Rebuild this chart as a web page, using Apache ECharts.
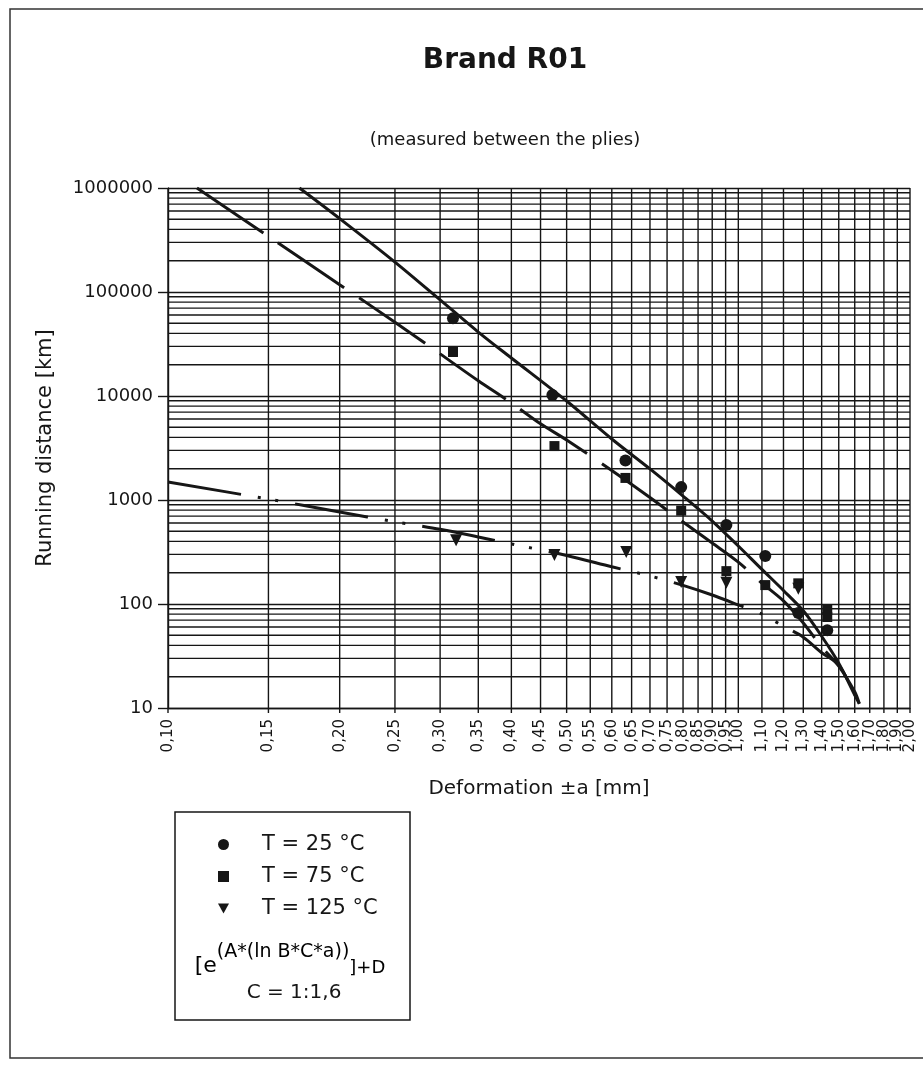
<!DOCTYPE html>
<html><head><meta charset="utf-8">
<script src="https://cdn.jsdelivr.net/npm/echarts@6/dist/echarts.min.js"></script>
<style>html,body{margin:0;padding:0;background:#fff}#c{width:923px;height:1065px}</style>
</head><body><div id="c"></div>
<script>
// ---- axis ticks / grid ----
const xTickValues = [0.10,0.15,0.20,0.25,0.30,0.35,0.40,0.45,0.50,0.55,0.60,0.65,0.70,0.75,0.80,0.85,0.90,0.95,1.00,1.10,1.20,1.30,1.40,1.50,1.60,1.70,1.80,1.90,2.00];
const xTickLabels = ['0,10','0,15','0,20','0,25','0,30','0,35','0,40','0,45','0,50','0,55','0,60','0,65','0,70','0,75','0,80','0,85','0,90','0,95','1,00','1,10','1,20','1,30','1,40','1,50','1,60','1,70','1,80','1,90','2,00'];
const yMinorGrid = [20,30,40,50,60,70,80,90,200,300,400,500,600,700,800,900,2000,3000,4000,5000,6000,7000,8000,9000,20000,30000,40000,50000,60000,70000,80000,90000,200000,300000,400000,500000,600000,700000,800000,900000];

// ---- measured points ----
const p25X = [0.316, 0.472, 0.634, 0.794, 0.953, 1.115, 1.274, 1.432];
const p25Y = [56000, 10200, 2400, 1330, 575, 290, 82, 56];
const p75X = [0.316, 0.476, 0.634, 0.794, 0.953, 1.115, 1.274, 1.432, 1.432];
const p75Y = [26500, 3300, 1630, 790, 207, 152, 158, 88, 75];
const p125X = [0.32, 0.476, 0.636, 0.794, 0.953, 1.274];
const p125Y = [410, 296, 316, 163, 160, 140];

// ---- fitted curves ----
const c25X = [0.17, 0.20, 0.25, 0.30, 0.35, 0.40, 0.50, 0.60, 0.70, 0.80, 0.90, 1.00, 1.10, 1.20, 1.30, 1.40, 1.50, 1.60, 1.63];
const c25Y = [1000000, 508000, 194000, 84000, 41200, 23200, 8950, 3860, 1990, 1090, 628, 361, 215, 135, 86, 49, 27, 13.3, 11];
const c75X = [0.1124, 0.15, 0.20, 0.25, 0.30, 0.35, 0.40, 0.45, 0.50, 0.60, 0.70, 0.80, 0.90, 1.00, 1.10, 1.20, 1.30, 1.40, 1.50, 1.60, 1.63];
const c75Y = [1000000, 342000, 117500, 51300, 25400, 14000, 8570, 5400, 3775, 1918, 1055, 614, 386, 253, 159, 107, 65.6, 38.6, 25.3, 14.3, 11];
const c125X = [0.10, 0.15, 0.20, 0.25, 0.30, 0.35, 0.40, 0.50, 0.60, 0.70, 0.80, 0.90, 1.00, 1.10, 1.20, 1.30, 1.40, 1.50, 1.60, 1.63];
const c125Y = [1490, 1020, 767, 618, 523, 441, 378, 293, 228, 186, 151, 122, 98, 80, 61, 48, 34, 26, 13.5, 11];

const seriesNames = ['T = 25 °C', 'T = 75 °C', 'T = 125 °C'];

const zip = (xs, ys) => xs.map((x, i) => [x, ys[i]]);
const INK = '#161616';
const FONT = '"DejaVu Sans", sans-serif';
const X_MIN = 0.1, X_MAX = 2.0, Y_MIN = 10, Y_MAX = 1000000;

const chart = echarts.init(document.getElementById('c'));

function renderVLine(params, api) {
  const x = api.value(0);
  const top = api.coord([x, Y_MAX]);
  const bot = api.coord([x, Y_MIN]);
  return {
    type: 'group',
    children: [
      { type: 'line', shape: { x1: bot[0], y1: top[1], x2: bot[0], y2: bot[1] + 5 },
        style: { stroke: INK, lineWidth: 1.4 } },
      { type: 'text', x: bot[0], y: bot[1] + 11, rotation: Math.PI / 2,
        style: { text: xTickLabels[params.dataIndex], align: 'right', verticalAlign: 'middle',
                 fill: INK, font: '15px ' + FONT } }
    ]
  };
}
function renderHLine(params, api) {
  const y = api.value(1);
  const l = api.coord([X_MIN, y]);
  const r = api.coord([X_MAX, y]);
  return { type: 'line', shape: { x1: l[0], y1: l[1], x2: r[0], y2: r[1] },
           style: { stroke: INK, lineWidth: 1.4 } };
}

const option = {
  backgroundColor: '#fff',
  animation: false,
  title: [
    { text: 'Brand R01', left: 500, top: 42, textAlign: 'center',
      textStyle: { fontFamily: FONT, fontSize: 28, fontWeight: 'bold', color: INK } },
    { text: '(measured between the plies)', left: 500, top: 126, textAlign: 'center',
      textStyle: { fontFamily: FONT, fontSize: 18, fontWeight: 'normal', color: INK } }
  ],
  grid: { left: 168, right: 13, top: 188, bottom: 357, containLabel: false },
  xAxis: {
    type: 'log', logBase: 10, min: X_MIN, max: X_MAX,
    name: 'Deformation ±a [mm]', nameLocation: 'middle', nameGap: 71,
    nameTextStyle: { fontFamily: FONT, fontSize: 20, color: INK },
    axisLine: { show: true, lineStyle: { color: INK, width: 1.4 } },
    axisTick: { show: false }, axisLabel: { show: false }, splitLine: { show: false }
  },
  yAxis: {
    type: 'log', logBase: 10, min: Y_MIN, max: Y_MAX, splitNumber: 5,
    name: 'Running distance [km]', nameLocation: 'middle', nameGap: 112,
    nameTextStyle: { fontFamily: FONT, fontSize: 21, color: INK },
    axisLine: { show: true, lineStyle: { color: INK, width: 1.4 } },
    axisTick: { show: true, length: 10, lineStyle: { color: INK, width: 1.4 } },
    axisLabel: { fontFamily: FONT, fontSize: 18, color: INK, margin: 15,
                 formatter: v => String(Math.round(v)) },
    splitLine: { show: true, lineStyle: { color: INK, width: 1.4 } }
  },
  legend: {
    orient: 'vertical', left: 213, top: 829, itemGap: 11,
    itemWidth: 11, itemHeight: 11, selectedMode: false,
    textStyle: { fontFamily: FONT, fontSize: 21, color: INK, padding: [0, 0, 0, 28] },
    data: [
      { name: seriesNames[0], icon: 'circle' },
      { name: seriesNames[1], icon: 'rect' },
      { name: seriesNames[2], icon: 'path://M0,0L10,0L5,9Z' }
    ]
  },
  graphic: [
    { type: 'polyline', silent: true, shape: { points: [[923, 9], [10, 9], [10, 1058], [923, 1058]] },
      style: { stroke: '#333', lineWidth: 1.5, fill: null } },
    { type: 'rect', silent: true, shape: { x: 175, y: 812, width: 235, height: 208 },
      style: { stroke: INK, lineWidth: 1.5, fill: null } },
    { type: 'text', silent: true, x: 290, y: 960,
      style: {
        text: '{a|[e}{s|(A*(ln B*C*a))}{b|]+D}', align: 'center', verticalAlign: 'middle',
        rich: {
          a: { fontFamily: FONT, fontSize: 22, color: INK, lineHeight: 34, verticalAlign: 'bottom' },
          s: { fontFamily: FONT, fontSize: 19, color: INK, lineHeight: 34, verticalAlign: 'top' },
          b: { fontFamily: FONT, fontSize: 18, color: INK, lineHeight: 34, verticalAlign: 'bottom' }
        }
      } },
    { type: 'text', silent: true, x: 294, y: 993,
      style: { text: 'C = 1:1,6', align: 'center', verticalAlign: 'middle',
               fill: INK, font: '20px ' + FONT } }
  ],
  series: [
    { type: 'custom', name: 'vgrid', renderItem: renderVLine, silent: true, z: 1,
      data: xTickValues.map(v => [v, Y_MIN]) },
    { type: 'custom', name: 'hgrid', renderItem: renderHLine, silent: true, z: 1,
      data: yMinorGrid.map(v => [X_MIN, v]) },
    { type: 'line', name: 'fit25', data: zip(c25X, c25Y), showSymbol: false, smooth: 0.3, z: 3,
      lineStyle: { color: INK, width: 3 }, silent: true },
    { type: 'line', name: 'fit75', data: zip(c75X, c75Y), showSymbol: false, smooth: 0.3, z: 3,
      lineStyle: { color: INK, width: 3, type: [80, 18] }, silent: true },
    { type: 'line', name: 'fit125', data: zip(c125X, c125Y), showSymbol: false, smooth: 0.3, z: 3,
      lineStyle: { color: INK, width: 3, type: [74, 17, 3, 15, 3, 17] }, silent: true },
    { type: 'scatter', name: seriesNames[0], data: zip(p25X, p25Y), symbol: 'circle', symbolSize: 12, z: 4,
      itemStyle: { color: INK, opacity: 1 } },
    { type: 'scatter', name: seriesNames[1], data: zip(p75X, p75Y), symbol: 'rect', symbolSize: 10, z: 4,
      itemStyle: { color: INK, opacity: 1 } },
    { type: 'scatter', name: seriesNames[2], data: zip(p125X, p125Y), symbol: 'triangle', symbolRotate: 180,
      symbolSize: 12, z: 4, itemStyle: { color: INK, opacity: 1 } }
  ]
};
chart.setOption(option);
</script>
</body></html>
